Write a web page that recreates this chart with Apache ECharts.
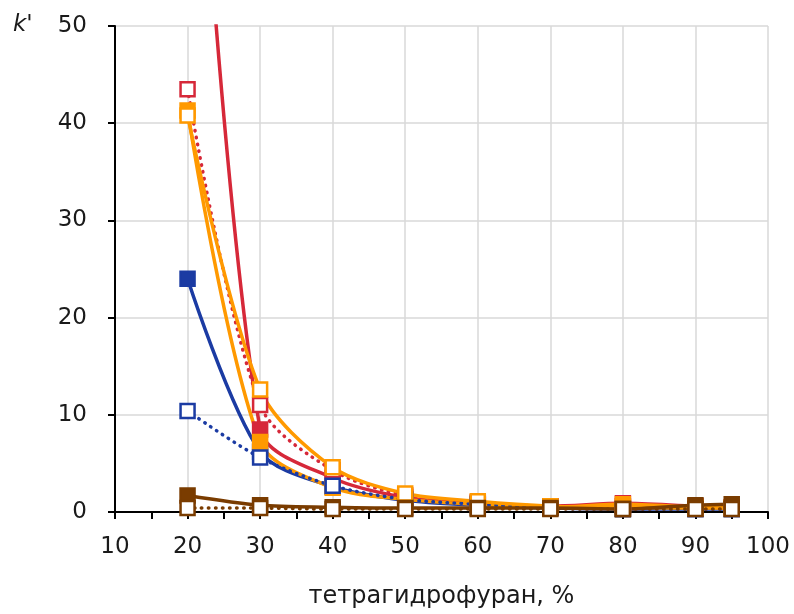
<!DOCTYPE html>
<html>
<head>
<meta charset="utf-8">
<script src="https://cdn.jsdelivr.net/npm/echarts@6/dist/echarts.min.js"></script>
<style>
  html, body { margin: 0; padding: 0; background: #fff; }
  #chart { width: 794px; height: 614px; }
</style>
</head>
<body>
<div id="chart"></div>
<script>
// tetrahydrofuran content, %
const thf = [20, 30, 40, 50, 60, 70, 80, 90, 95];

// k' values (red filled at 20 % is off the top)
const redFilled    = [92, 8.5, 3.5, 1.5, 0.9, 0.6, 0.9, 0.6, 0.5];
const redOpen      = [43.5, 11.0, 4.3, 1.7, 1.0, 0.6, 0.6, 0.5, 0.4];
const blueFilled   = [24.0, 6.2, 2.6, 1.2, 0.7, 0.4, 0.3, 0.3, 0.3];
const orangeFilled = [41.3, 7.2, 2.5, 1.3, 0.8, 0.5, 0.8, 0.5, 0.4];
const blueOpen     = [10.4, 5.6, 2.7, 1.3, 0.8, 0.4, 0.3, 0.3, 0.3];
const orangeOpen   = [40.8, 12.6, 4.6, 1.9, 1.1, 0.6, 0.5, 0.4, 0.4];
const brownFilled  = [1.7, 0.7, 0.5, 0.4, 0.4, 0.4, 0.3, 0.7, 0.8];
const brownOpen    = [0.4, 0.4, 0.3, 0.3, 0.3, 0.3, 0.3, 0.3, 0.3];

const RED = "#d62839";
const BLUE = "#1b3ba3";
const ORANGE = "#ff9900";
const BROWN = "#7a3c00";
const FONT = "'DejaVu Sans', 'Noto Sans', sans-serif";

const pairs = (ys) => thf.map((x, i) => [x, ys[i]]);

const makeSeries = (ys, color, filled, dotted) => ({
  type: "line",
  data: pairs(ys),
  smooth: 0.3,
  clip: true,
  symbol: "rect",
  symbolSize: 14,
  lineStyle: {
    color: color,
    width: 3.5,
    type: dotted ? [0.5, 6.5] : "solid",
    cap: "round",
  },
  itemStyle: {
    color: filled ? color : "#fff",
    borderColor: color,
    borderWidth: 2.5,
  },
});

const chart = echarts.init(document.getElementById("chart"));

chart.setOption({
  animation: false,
  grid: { left: 115, right: 26, top: 26, bottom: 101 },
  graphic: [
    {
      type: "text",
      left: 13,
      top: 14,
      style: {
        text: "k'",
        font: "italic 23px " + FONT,
        fill: "#1a1a1a",
      },
    },
  ],
  xAxis: {
    type: "value",
    min: 10,
    max: 100,
    interval: 10,
    name: "тетрагидрофуран, %",
    nameLocation: "middle",
    nameGap: 73,
    nameTextStyle: { fontSize: 24, fontFamily: FONT, color: "#1a1a1a" },
    axisLine: { lineStyle: { color: "#000", width: 2 } },
    axisTick: { show: true, length: 7, lineStyle: { color: "#000", width: 2 } },
    minorTick: { show: true, splitNumber: 2, length: 7, lineStyle: { color: "#000", width: 2 } },
    axisLabel: { fontSize: 23, fontFamily: FONT, color: "#1a1a1a", margin: 24 },
    splitLine: { show: true, lineStyle: { color: "#d9d9d9", width: 1.5 } },
  },
  yAxis: {
    type: "value",
    min: 0,
    max: 50,
    interval: 10,
    axisLine: { show: true, lineStyle: { color: "#000", width: 2 } },
    axisTick: { show: true, length: 7, lineStyle: { color: "#000", width: 2 } },
    axisLabel: { fontSize: 23, fontFamily: FONT, color: "#1a1a1a", margin: 28 },
    splitLine: { show: true, lineStyle: { color: "#d9d9d9", width: 1.5 } },
  },
  series: [
    makeSeries(redFilled, RED, true, false),
    makeSeries(redOpen, RED, false, true),
    makeSeries(blueFilled, BLUE, true, false),
    makeSeries(orangeFilled, ORANGE, true, false),
    makeSeries(blueOpen, BLUE, false, true),
    makeSeries(orangeOpen, ORANGE, false, false),
    makeSeries(brownFilled, BROWN, true, false),
    makeSeries(brownOpen, BROWN, false, true),
  ],
});
</script>
</body>
</html>
